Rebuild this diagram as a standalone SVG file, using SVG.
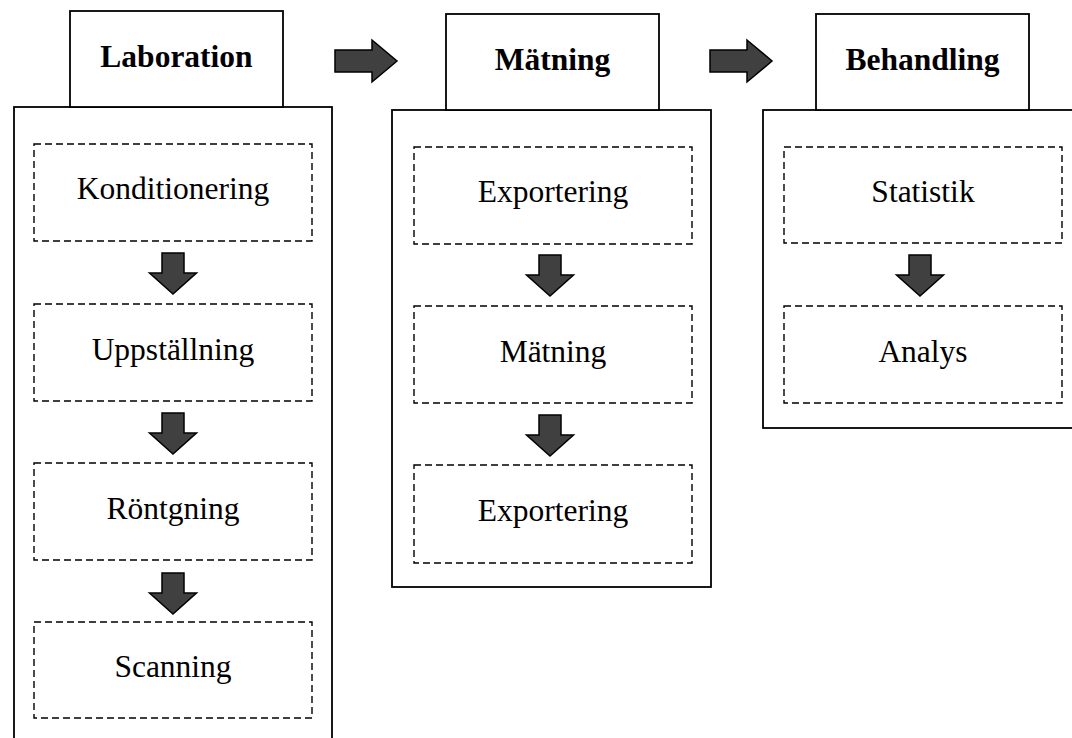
<svg xmlns="http://www.w3.org/2000/svg" width="1072" height="738" viewBox="0 0 1072 738">
<defs>
<style>
.outer{fill:#fff;stroke:#000;stroke-width:1.8}
.hdr{fill:#fff;stroke:#000;stroke-width:1.8}
.step{fill:#fff;stroke:#000;stroke-width:1.4;stroke-dasharray:7 4}
.ht{font-family:"Liberation Serif","Times New Roman",serif;font-size:31.5px;font-weight:bold;text-anchor:middle;fill:#000}
.st{font-family:"Liberation Serif","Times New Roman",serif;font-size:31.5px;text-anchor:middle;fill:#000}
.arr{fill:#404040;stroke:#000;stroke-width:1.5;stroke-linejoin:miter}
</style>
<path id="down" d="M-11,0 H11 V20 H23.5 L0,41 L-23.5,20 H-11 Z"/>
<path id="right" d="M0,-11 H37 V-21 L62,0 L37,21 V11 H0 Z"/>
</defs>
<rect width="1072" height="738" fill="#fff"/>

<g id="col-laboration">
<rect class="outer" x="14" y="107" width="318" height="650"/>
<rect class="hdr" x="70" y="11" width="213" height="96"/>
<text class="ht" x="176.5" y="67">Laboration</text>
</g>
<g id="col-matning">
<rect class="outer" x="392" y="110" width="319" height="477"/>
<rect class="hdr" x="446" y="14" width="213" height="96"/>
<text class="ht" x="552.5" y="70">Mätning</text>
</g>
<g id="col-behandling">
<rect class="outer" x="763" y="110" width="330" height="318"/>
<rect class="hdr" x="816" y="14" width="213" height="96"/>
<text class="ht" x="922.5" y="70">Behandling</text>
</g>

<g id="n-konditionering"><rect class="step" x="34" y="144" width="278" height="97"/><text class="st" x="173" y="199">Konditionering</text></g>
<g id="n-uppstallning"><rect class="step" x="34" y="304" width="278" height="97"/><text class="st" x="173" y="360">Uppställning</text></g>
<g id="n-rontgning"><rect class="step" x="34" y="463" width="278" height="97"/><text class="st" x="173" y="519">Röntgning</text></g>
<g id="n-scanning"><rect class="step" x="34" y="622" width="278" height="96"/><text class="st" x="173" y="677">Scanning</text></g>

<g id="n-exportering1"><rect class="step" x="414" y="147" width="278" height="97"/><text class="st" x="553" y="202">Exportering</text></g>
<g id="n-matning"><rect class="step" x="414" y="306" width="278" height="97"/><text class="st" x="553" y="362">Mätning</text></g>
<g id="n-exportering2"><rect class="step" x="414" y="465" width="278" height="98"/><text class="st" x="553" y="521">Exportering</text></g>

<g id="n-statistik"><rect class="step" x="784" y="147" width="278" height="96"/><text class="st" x="923" y="202">Statistik</text></g>
<g id="n-analys"><rect class="step" x="784" y="306" width="278" height="97"/><text class="st" x="923" y="362">Analys</text></g>

<g id="connectors">
<use href="#right" class="arr" x="335" y="61"/>
<use href="#right" class="arr" x="710" y="61"/>
<use href="#down" class="arr" x="173" y="253"/>
<use href="#down" class="arr" x="173" y="413"/>
<use href="#down" class="arr" x="173" y="573"/>
<use href="#down" class="arr" x="550" y="255"/>
<use href="#down" class="arr" x="550" y="415"/>
<use href="#down" class="arr" x="920" y="255"/>
</g>
</svg>
